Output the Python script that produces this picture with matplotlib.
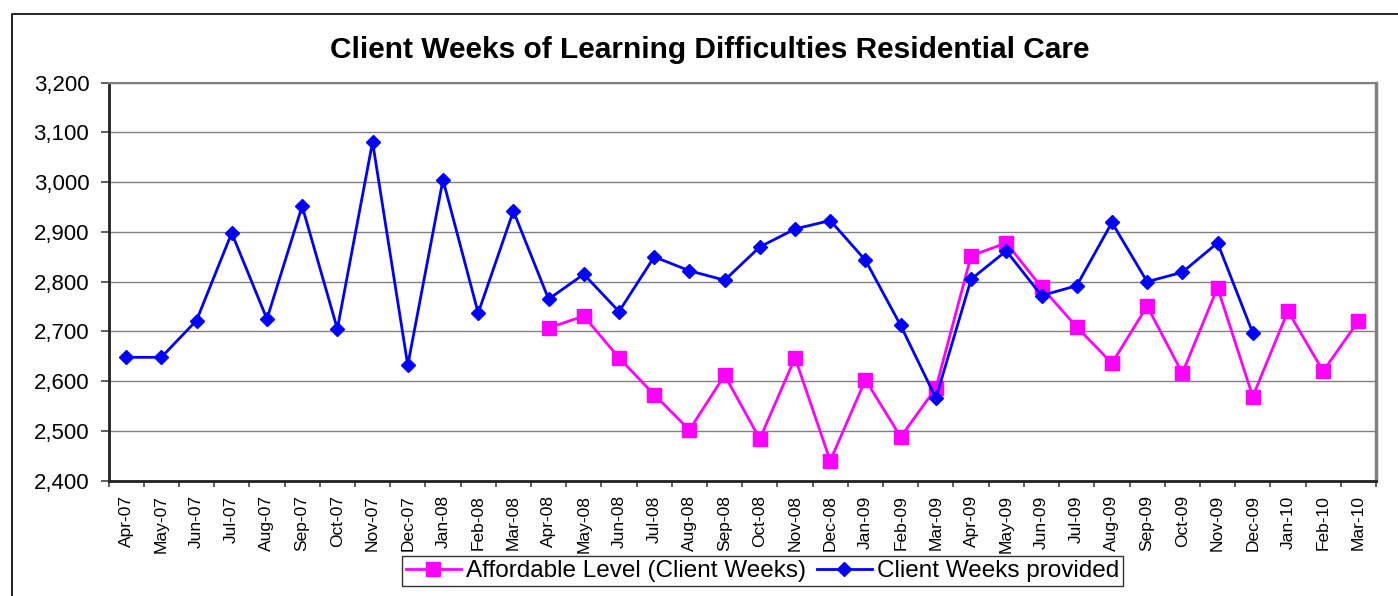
import matplotlib
matplotlib.use("Agg")
import matplotlib.pyplot as plt
from matplotlib.patches import Rectangle
from matplotlib.ticker import FuncFormatter, FixedLocator
import numpy as np

plt.rcParams['font.family'] = ['Liberation Sans', 'DejaVu Sans']

months = ["Apr-07", "May-07", "Jun-07", "Jul-07", "Aug-07", "Sep-07", "Oct-07", "Nov-07",
          "Dec-07", "Jan-08", "Feb-08", "Mar-08", "Apr-08", "May-08", "Jun-08", "Jul-08",
          "Aug-08", "Sep-08", "Oct-08", "Nov-08", "Dec-08", "Jan-09", "Feb-09", "Mar-09",
          "Apr-09", "May-09", "Jun-09", "Jul-09", "Aug-09", "Sep-09", "Oct-09", "Nov-09",
          "Dec-09", "Jan-10", "Feb-10", "Mar-10"]

# Client Weeks provided: Apr-07 .. Dec-09
provided = [2648, 2648, 2722, 2898, 2725, 2952, 2705, 3081, 2632, 3005, 2737, 2942,
            2765, 2815, 2740, 2850, 2822, 2803, 2870, 2906, 2923, 2843, 2712, 2566,
            2805, 2862, 2772, 2792, 2919, 2800, 2819, 2878, 2697]

# Affordable Level (Client Weeks): Apr-08 .. Mar-10
affordable = [2707, 2731, 2647, 2573, 2502, 2612, 2484, 2647, 2440, 2603, 2488, 2586,
              2852, 2878, 2789, 2709, 2636, 2751, 2616, 2788, 2569, 2741, 2620, 2721]

title = "Client Weeks of Learning Difficulties Residential Care"
label_aff = "Affordable Level (Client Weeks)"
label_prov = "Client Weeks provided"

W, H = 1398, 596
fig = plt.figure(figsize=(W / 100, H / 100), dpi=100)
ax = fig.add_axes([108.5 / W, 1 - 480.7 / H, (1376 - 108.5) / W, (480.7 - 82.7) / H])

x_prov = np.arange(len(provided))
x_aff = np.arange(12, 12 + len(affordable))

ax.plot(x_aff, affordable, color='#FF00FF', lw=2, marker='s', markersize=10.5,
        markeredgecolor='#FF00FF', markerfacecolor='#FF00FF', label=label_aff, zorder=3)
ax.plot(x_prov, provided, color='#0000FF', lw=2, marker='D', markersize=7.5,
        markeredgecolor='#0000FF', markerfacecolor='#0000FF', label=label_prov, zorder=4)

ax.set_xlim(-0.5, len(months) - 0.5)
ax.set_ylim(2400, 3200)
ax.set_yticks(np.arange(2400, 3201, 100))
ax.yaxis.set_major_formatter(FuncFormatter(lambda v, p: f"{int(v):,}"))
ax.grid(axis='y', color='#808080', lw=1)
ax.set_axisbelow(True)

ax.set_xticks(np.arange(len(months)))
ax.set_xticklabels(months, rotation=90, fontsize=12.5)
ax.xaxis.set_minor_locator(FixedLocator(np.arange(-0.5, len(months), 1.0)))
ax.tick_params(axis='x', which='major', length=0, pad=10.5)
ax.tick_params(axis='x', which='minor', length=4.5, width=1.2, color='#444444', direction='out')
ax.tick_params(axis='y', which='major', length=5.8, width=1.2, color='#444444', pad=8, labelsize=16)

for s in ['left', 'bottom']:
    ax.spines[s].set_color('#222222')
    ax.spines[s].set_linewidth(2)
ax.spines['top'].set_color('#808080')
ax.spines['top'].set_linewidth(1.5)
ax.spines['right'].set_color('#808080')
ax.spines['right'].set_linewidth(2.5)

fig.text(710 / W, 1 - 50.5 / H, title, ha='center', va='center', fontsize=21.5, fontweight='bold')

leg = fig.legend(loc='center', bbox_to_anchor=(762.5 / W, 1 - 571 / H), ncol=2,
                 fontsize=17.5, frameon=True, fancybox=False, edgecolor='black',
                 handlelength=2.27, handletextpad=0.2, columnspacing=0.45,
                 borderpad=0.15, borderaxespad=0)
leg.get_frame().set_linewidth(1)

fig.patches.append(Rectangle((12 / W, -0.1), 1.2, (1 - 14 / H) + 0.1, transform=fig.transFigure,
                             fill=False, edgecolor='black', lw=1.2, zorder=0))

fig.savefig("out.png", dpi=100)
